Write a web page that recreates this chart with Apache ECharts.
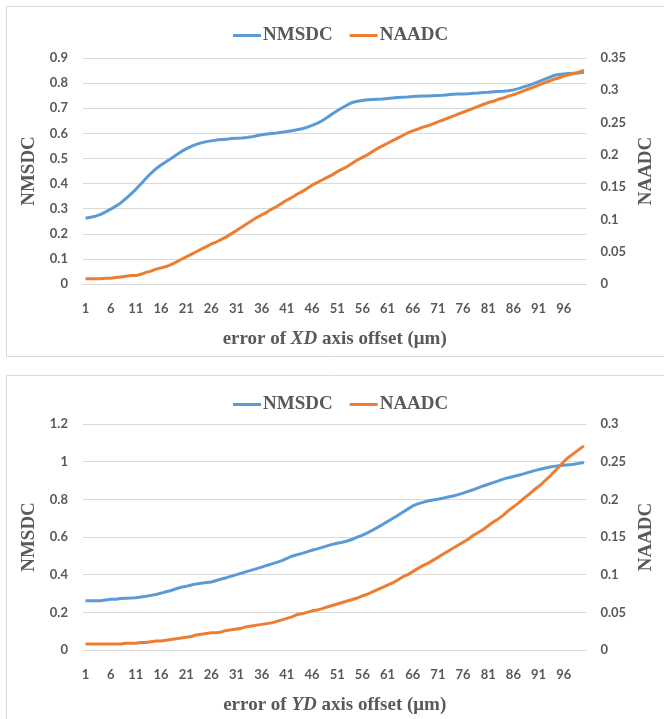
<!DOCTYPE html>
<html>
<head>
<meta charset="utf-8">
<title>NMSDC / NAADC vs axis offset error</title>
<script src="https://cdn.jsdelivr.net/npm/echarts@6/dist/echarts.min.js"></script>
<style>
  html, body { margin: 0; padding: 0; background: #ffffff; }
  #chart { width: 664px; height: 719px; }
</style>
</head>
<body>
<div id="chart"></div>
<script>
// Offset error steps 1..100 (µm)
const categories = [];
for (let k = 1; k <= 100; k++) categories.push(String(k));

// XD axis offset error
const xdNMSDC = [
  0.262, 0.266, 0.270, 0.277, 0.287, 0.298, 0.310, 0.323, 0.340, 0.358,
  0.377, 0.398, 0.420, 0.441, 0.459, 0.474, 0.487, 0.500, 0.514, 0.527,
  0.538, 0.548, 0.556, 0.562, 0.567, 0.570, 0.573, 0.575, 0.576, 0.579,
  0.580, 0.581, 0.583, 0.586, 0.590, 0.594, 0.597, 0.599, 0.601, 0.604,
  0.607, 0.610, 0.614, 0.618, 0.624, 0.632, 0.640, 0.650, 0.663, 0.677,
  0.690, 0.702, 0.713, 0.723, 0.728, 0.731, 0.734, 0.735, 0.736, 0.737,
  0.739, 0.741, 0.743, 0.744, 0.745, 0.747, 0.748, 0.749, 0.749, 0.750,
  0.751, 0.752, 0.754, 0.756, 0.757, 0.757, 0.758, 0.760, 0.761, 0.763,
  0.764, 0.766, 0.767, 0.768, 0.770, 0.773, 0.778, 0.785, 0.791, 0.798,
  0.806, 0.814, 0.822, 0.830, 0.834, 0.836, 0.838, 0.839, 0.840, 0.843
];
const xdNAADC = [
  0.008, 0.008, 0.008, 0.008, 0.009, 0.009, 0.010, 0.011, 0.012, 0.013,
  0.013, 0.015, 0.018, 0.020, 0.023, 0.025, 0.027, 0.030, 0.034, 0.038,
  0.042, 0.046, 0.050, 0.054, 0.058, 0.062, 0.065, 0.069, 0.073, 0.078,
  0.083, 0.088, 0.093, 0.098, 0.103, 0.107, 0.111, 0.116, 0.120, 0.125,
  0.130, 0.134, 0.139, 0.143, 0.148, 0.153, 0.157, 0.161, 0.165, 0.169,
  0.174, 0.178, 0.182, 0.187, 0.192, 0.196, 0.200, 0.205, 0.210, 0.214,
  0.218, 0.222, 0.226, 0.230, 0.234, 0.237, 0.240, 0.243, 0.245, 0.248,
  0.251, 0.254, 0.257, 0.260, 0.263, 0.266, 0.269, 0.272, 0.275, 0.278,
  0.281, 0.283, 0.286, 0.288, 0.291, 0.293, 0.296, 0.299, 0.302, 0.305,
  0.308, 0.311, 0.314, 0.317, 0.319, 0.322, 0.324, 0.326, 0.328, 0.331
];

// YD axis offset error
const ydNMSDC = [
  0.261, 0.261, 0.261, 0.262, 0.266, 0.269, 0.270, 0.273, 0.275, 0.276,
  0.278, 0.281, 0.285, 0.290, 0.295, 0.302, 0.309, 0.316, 0.325, 0.333,
  0.338, 0.345, 0.351, 0.355, 0.358, 0.361, 0.369, 0.377, 0.384, 0.392,
  0.400, 0.408, 0.416, 0.424, 0.432, 0.440, 0.449, 0.457, 0.465, 0.475,
  0.487, 0.498, 0.506, 0.513, 0.521, 0.530, 0.537, 0.545, 0.553, 0.561,
  0.567, 0.572, 0.579, 0.588, 0.599, 0.610, 0.622, 0.636, 0.651, 0.666,
  0.682, 0.698, 0.714, 0.731, 0.748, 0.765, 0.776, 0.784, 0.791, 0.796,
  0.800, 0.806, 0.812, 0.818, 0.825, 0.833, 0.842, 0.851, 0.861, 0.871,
  0.880, 0.889, 0.898, 0.907, 0.915, 0.921, 0.928, 0.935, 0.943, 0.951,
  0.958, 0.964, 0.970, 0.975, 0.978, 0.981, 0.983, 0.986, 0.991, 0.996
];
const ydNAADC = [
  0.008, 0.008, 0.008, 0.008, 0.008, 0.008, 0.008, 0.008, 0.009, 0.009,
  0.009, 0.010, 0.010, 0.011, 0.012, 0.012, 0.013, 0.014, 0.015, 0.016,
  0.017, 0.018, 0.020, 0.021, 0.022, 0.023, 0.023, 0.024, 0.026, 0.027,
  0.028, 0.029, 0.031, 0.032, 0.033, 0.034, 0.035, 0.036, 0.038, 0.040,
  0.042, 0.044, 0.047, 0.048, 0.050, 0.052, 0.053, 0.055, 0.057, 0.059,
  0.061, 0.063, 0.065, 0.067, 0.069, 0.072, 0.074, 0.077, 0.080, 0.083,
  0.086, 0.089, 0.093, 0.097, 0.100, 0.104, 0.108, 0.112, 0.115, 0.119,
  0.123, 0.127, 0.131, 0.135, 0.139, 0.143, 0.147, 0.152, 0.156, 0.160,
  0.165, 0.170, 0.174, 0.179, 0.185, 0.190, 0.195, 0.201, 0.206, 0.212,
  0.217, 0.223, 0.229, 0.236, 0.243, 0.250, 0.256, 0.261, 0.266, 0.271
];

const seriesNames = ['NMSDC', 'NAADC'];
const xTitles = ['error of {i|XD} axis offset (μm)', 'error of {i|YD} axis offset (μm)'];

const BLUE = '#5B9BD5';
const ORANGE = '#ED7D31';
const GRID = '#D9D9D9';
const TEXT = '#595959';
const SERIF = '"Liberation Serif", "Times New Roman", serif';
const SANS = 'Lato, "Open Sans", sans-serif';

const titleStyle = {
  fontFamily: SERIF, fontWeight: 'bold', fontSize: 19, color: TEXT
};

function legendAt(top) {
  return {
    top: top, left: 233, padding: 0,
    data: seriesNames,
    icon: 'rect', itemWidth: 28, itemHeight: 3, itemGap: 17,
    textStyle: Object.assign({}, titleStyle, { padding: [0, 0, 0, -3] }),
    selectedMode: false
  };
}

function xAxisFor(idx) {
  return {
    gridIndex: idx, type: 'category', data: categories, boundaryGap: true,
    axisTick: { show: false },
    axisLine: { lineStyle: { color: GRID, width: 1 } },
    axisLabel: { interval: 4, margin: 18, color: TEXT, fontFamily: SANS, fontWeight: 'bold', fontSize: 13 },
    name: xTitles[idx], nameLocation: 'middle', nameGap: 46,
    nameTextStyle: Object.assign({}, titleStyle, {
      rich: { i: Object.assign({}, titleStyle, { fontStyle: 'italic' }) }
    })
  };
}

function yAxisFor(idx, side, max, step, name, showSplit) {
  return {
    gridIndex: idx, type: 'value', position: side, min: 0, max: max, interval: step,
    axisLine: { show: false }, axisTick: { show: false },
    splitLine: { show: showSplit, lineStyle: { color: GRID, width: 1 } },
    axisLabel: { margin: side === 'left' ? 15 : 14, color: TEXT, fontFamily: SANS, fontWeight: 'bold', fontSize: 13 },
    name: name, nameLocation: 'middle', nameRotate: 90, nameGap: side === 'left' ? 36 : 49,
    nameTextStyle: Object.assign({}, titleStyle)
  };
}

function lineSeries(name, data, xi, yi, color) {
  return {
    name: name, type: 'line', data: data, xAxisIndex: xi, yAxisIndex: yi,
    showSymbol: false, symbol: 'none', color: color,
    lineStyle: { color: color, width: 3 }
  };
}

const chart = echarts.init(document.getElementById('chart'), null, { renderer: 'canvas' });
chart.setOption({
  animation: false,
  backgroundColor: '#ffffff',
  graphic: [
    { type: 'rect', shape: { x: 6.5, y: 6.5, width: 700, height: 350 }, style: { fill: 'none', stroke: GRID, lineWidth: 1 }, silent: true },
    { type: 'rect', shape: { x: 6.5, y: 375.5, width: 700, height: 400 }, style: { fill: 'none', stroke: GRID, lineWidth: 1 }, silent: true }
  ],
  legend: [legendAt(26), legendAt(395)],
  grid: [
    { left: 83, right: 76, top: 58, height: 226 },
    { left: 83, right: 76, top: 424, height: 226 }
  ],
  xAxis: [xAxisFor(0), xAxisFor(1)],
  yAxis: [
    yAxisFor(0, 'left', 0.9, 0.1, 'NMSDC', true),
    yAxisFor(0, 'right', 0.35, 0.05, 'NAADC', false),
    yAxisFor(1, 'left', 1.2, 0.2, 'NMSDC', true),
    yAxisFor(1, 'right', 0.3, 0.05, 'NAADC', false)
  ],
  series: [
    lineSeries('NMSDC', xdNMSDC, 0, 0, BLUE),
    lineSeries('NAADC', xdNAADC, 0, 1, ORANGE),
    lineSeries('NMSDC', ydNMSDC, 1, 2, BLUE),
    lineSeries('NAADC', ydNAADC, 1, 3, ORANGE)
  ]
});
</script>
</body>
</html>
